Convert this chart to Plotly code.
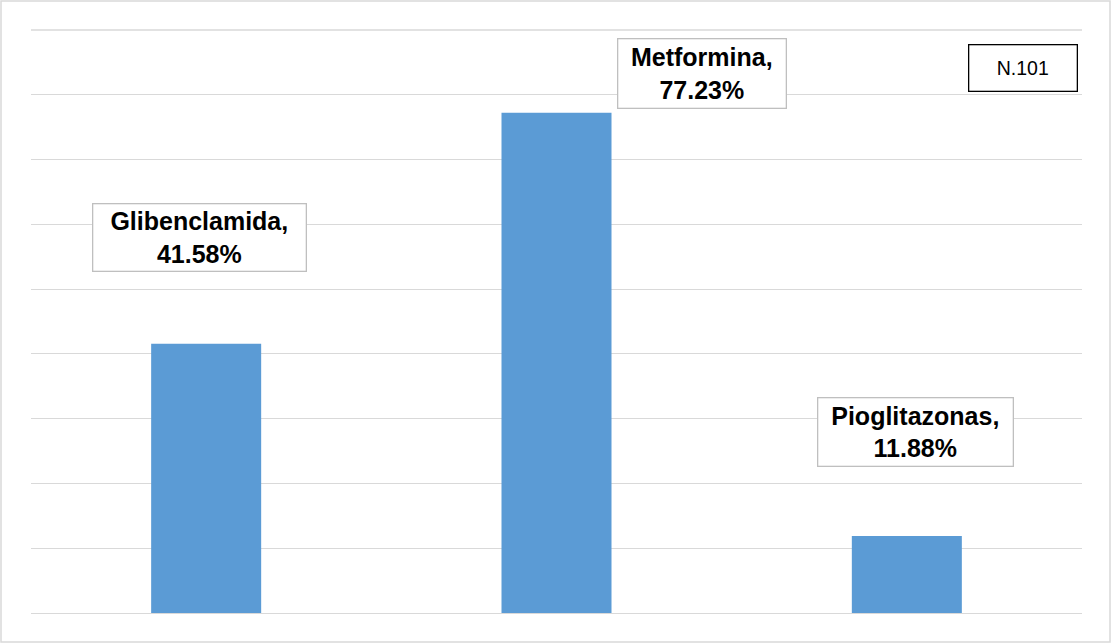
import plotly.graph_objects as go

categories = ["Glibenclamida", "Metformina", "Pioglitazonas"]
values = [41.58, 77.23, 11.88]
note_text = "N.101"

# label box positions (data coords) and sizes (px)
label_x = [-0.018, 1.414, 2.026]
label_y = [57.9, 83.36, 28.0]
label_w = [212, 167, 194]
label_h = [66, 68, 67]

W, H = 1111, 643
ml, mr, mt, mb = 31, 29, 30, 30
pw, ph = W - ml - mr, H - mt - mb

fig = go.Figure()
fig.add_trace(go.Bar(
    x=list(range(len(categories))), y=values,
    marker=dict(color="#5B9BD5", line=dict(width=0)),
    hoverinfo="skip",
))

annotations = []
for i, (c, v) in enumerate(zip(categories, values)):
    annotations.append(dict(
        x=label_x[i], y=label_y[i], xref="x", yref="y",
        text=f"<b>{c},<br>{v:.2f}%</b>", showarrow=False,
        font=dict(family="Liberation Sans, Arial, sans-serif", size=25, color="#000000"),
        align="center", bgcolor="#FFFFFF", bordercolor="#BFBFBF", borderwidth=1.3,
        borderpad=0, width=label_w[i], height=label_h[i],
        xanchor="center", yanchor="middle",
    ))
annotations.append(dict(
    x=(1023 - ml) / pw, y=(H - mb - 68) / ph, xref="paper", yref="paper",
    text=note_text, showarrow=False,
    font=dict(family="Liberation Sans, Arial, sans-serif", size=19.5, color="#000000"),
    align="center", bgcolor="#FFFFFF", bordercolor="#000000", borderwidth=1.3,
    borderpad=0, width=107, height=45, xanchor="center", yanchor="middle",
))

fig.update_layout(
    width=W, height=H,
    margin=dict(l=ml, r=mr, t=mt, b=mb, pad=0),
    paper_bgcolor="#FFFFFF", plot_bgcolor="#FFFFFF",
    showlegend=False, bargap=0.686,
    annotations=annotations,
    xaxis=dict(range=[-0.5, 2.5], showticklabels=False, showgrid=False,
               zeroline=False, showline=False, ticks="", fixedrange=True),
    yaxis=dict(range=[0, 90], dtick=10, tick0=0, showticklabels=False,
               showgrid=True, gridcolor="#D9D9D9", gridwidth=1.3,
               zeroline=True, zerolinecolor="#D9D9D9", zerolinewidth=1.3,
               showline=False, ticks="", fixedrange=True),
    shapes=[
        dict(type="rect", xref="paper", yref="paper",
             x0=(1 - ml) / pw, x1=(W - 1 - ml) / pw,
             y0=(H - mb - (H - 1)) / ph, y1=(H - mb - 1) / ph,
             line=dict(color="#D9D9D9", width=1.5), fillcolor="rgba(0,0,0,0)", layer="below"),
        dict(type="line", xref="paper", yref="paper", x0=0, x1=1, y0=1, y1=1,
             line=dict(color="#D9D9D9", width=1.3), layer="below"),
    ],
)

fig.write_html("out.html", config={"displayModeBar": False})
